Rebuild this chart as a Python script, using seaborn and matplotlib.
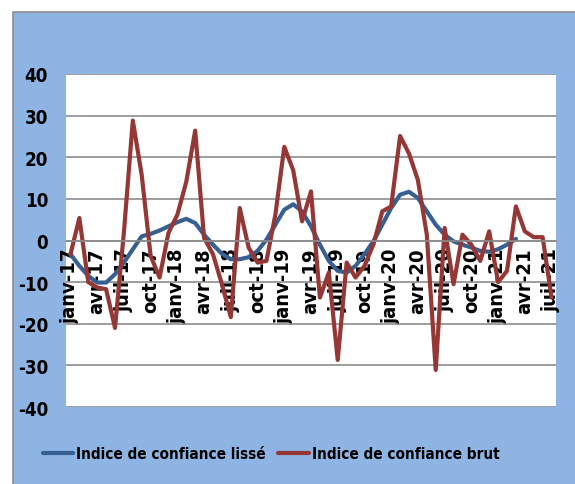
import numpy as np
import seaborn as sns
import matplotlib.pyplot as plt
from matplotlib.patches import Rectangle

# monthly categories janv-17 .. juil-21
mois = ['janv', 'févr', 'mars', 'avr', 'mai', 'juin',
        'juil', 'août', 'sept', 'oct', 'nov', 'déc']
annees = ['17', '18', '19', '20', '21']
categories = [m + '-' + a for a in annees for m in mois][:55]

brut = [-3.3, 5.4, -10.0, -11.3, -11.7, -21.0, 2.0, 28.8, 15.7, -3.7,
        -8.9, 1.8, 6.2, 14.1, 26.4, 0.6, -3.3, -10.5, -18.4, 7.8,
        -1.7, -5.3, -4.9, 6.2, 22.5, 16.9, 4.6, 11.8, -13.7, -7.7,
        -28.7, -5.3, -8.9, -6.1, -1.0, 7.0, 8.2, 25.1, 20.9, 14.5,
        1.4, -31.1, 3.0, -10.5, 1.4, -1.0, -4.9, 2.2, -10.0, -7.3,
        8.2, 2.2, 0.8, 0.8, -13.7]

lisse = [-3.3, -6.1, -8.5, -10.1, -10.1, -8.1, -5.3, -2.1, 1.0, 1.6,
         2.4, 3.4, 4.4, 5.2, 4.2, 1.4, -1.0, -3.2, -4.5, -4.5,
         -4.0, -2.5, 0.2, 3.8, 7.4, 8.7, 7.0, 3.4, -1.0, -4.9,
         -7.3, -7.7, -6.1, -3.3, -0.2, 3.8, 7.8, 11.0, 11.7, 10.2,
         7.0, 3.8, 1.4, -0.2, -1.0, -1.7, -2.5, -2.7, -2.1, -1.0, 0.4]

yticks = [-40, -30, -20, -10, 0, 10, 20, 30, 40]

sns.set_style('white')
plt.rcParams['font.family'] = ['DejaVu Sans']
plt.rcParams['font.stretch'] = 'condensed'
plt.rcParams['font.weight'] = 'bold'
plt.rcParams['text.color'] = 'black'

fig = plt.figure(figsize=(5.75, 4.85), dpi=100)
fig.patch.set_facecolor('white')
fig.patches.append(Rectangle((13 / 575, -0.1), 1.2, 1 - 13 / 485 + 0.1,
                             transform=fig.transFigure, facecolor='#8DB4E2',
                             edgecolor='#8c8c8c', linewidth=1.2, zorder=-10))

ax = fig.add_axes([66 / 575, 1 - 408 / 485, 490 / 575, 333 / 485])
ax.set_facecolor('white')

x = np.arange(len(categories))
sns.lineplot(x=x[:len(lisse)], y=lisse, ax=ax, color='#376092', lw=3,
             label='Indice de confiance lissé')
sns.lineplot(x=x, y=brut, ax=ax, color='#953735', lw=3,
             label='Indice de confiance brut')

ax.set_xlim(-0.5, len(categories) - 0.5)
ax.set_ylim(-40, 40)
ax.set_yticks(yticks)
ax.set_yticklabels([str(v) for v in yticks])
ax.yaxis.grid(True, color='#8c8c8c', lw=1.2)
ax.set_axisbelow(True)

for s in ['top', 'right', 'left']:
    ax.spines[s].set_visible(False)
ax.spines['bottom'].set_position(('data', 0))
ax.spines['bottom'].set_color('#8c8c8c')
ax.spines['bottom'].set_linewidth(1.2)

ax.set_xticks(x[::3])
ax.set_xticklabels(categories[::3], rotation=90, fontsize=14.5, fontweight='bold')
ax.set_xticks(np.arange(2.5, len(categories), 3), minor=True)
ax.tick_params(axis='x', which='major', length=0, pad=5, labelcolor='black')
ax.tick_params(axis='x', which='minor', length=12, width=1.2,
               direction='inout', color='#8c8c8c')
ax.tick_params(axis='y', length=0, pad=13, labelsize=13.5, labelcolor='black')
for lab in ax.get_yticklabels():
    lab.set_fontweight('bold')

ax.legend(loc='center', bbox_to_anchor=(271 / 575, 1 - 455 / 485),
          bbox_transform=fig.transFigure, ncol=2, frameon=False,
          prop={'size': 11, 'weight': 'bold', 'stretch': 'condensed'},
          handlelength=2.0, handletextpad=0.2, columnspacing=0.8)

fig.savefig('out.png', dpi=100)
